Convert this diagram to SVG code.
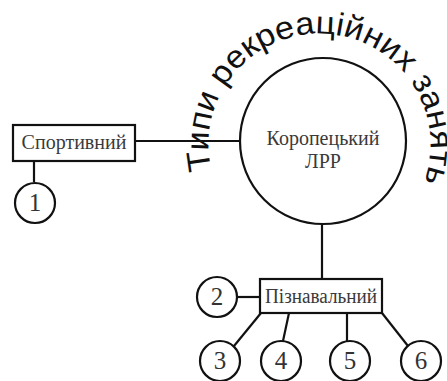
<svg xmlns="http://www.w3.org/2000/svg" width="447" height="381" viewBox="0 0 447 381">
<defs>
<style>
.box{fill:#fff;stroke:#111;stroke-width:2.2}
.num{fill:#fff;stroke:#111;stroke-width:2.2}
.ln{stroke:#111;stroke-width:2.2;fill:none}
.lbl{font-family:"Liberation Serif","Times New Roman",serif;font-size:20px;fill:#3a3a3a;text-anchor:middle}
.nt{font-family:"Liberation Serif","Times New Roman",serif;font-size:25px;fill:#333;text-anchor:middle}
.arc{font-family:"Liberation Sans",Arial,sans-serif;font-size:32px;fill:#111}
</style>
<path id="arcPath" d="M 211.3 169.9 A 111 111 0 1 1 424.9 179.1"/>
</defs>
<rect width="447" height="381" fill="#fff"/>
<g id="connectors">
<line class="ln" x1="135" y1="141" x2="240" y2="141"/>
<line class="ln" x1="34" y1="161" x2="34" y2="182"/>
<line class="ln" x1="322" y1="224" x2="322" y2="279"/>
<line class="ln" x1="237" y1="297" x2="260" y2="297"/>
<line class="ln" x1="261" y1="313" x2="234" y2="346"/>
<line class="ln" x1="289" y1="313" x2="283" y2="341"/>
<line class="ln" x1="347" y1="313" x2="347" y2="341"/>
<line class="ln" x1="382" y1="313" x2="408" y2="346"/>
</g>
<g id="arc-title">
<text class="arc"><textPath href="#arcPath" textLength="412" lengthAdjust="spacingAndGlyphs">Типи рекреаційних занять</textPath></text>
</g>
<g id="node-center">
<circle class="box" cx="323" cy="141" r="83"/>
<text class="lbl" x="323" y="145">Коропецький</text>
<text class="lbl" x="323" y="168">ЛРР</text>
</g>
<g id="node-sport">
<rect class="box" x="13" y="125" width="122" height="36"/>
<text class="lbl" x="74" y="149">Спортивний</text>
</g>
<g id="node-piznav">
<rect class="box" x="260" y="279" width="122" height="34"/>
<text class="lbl" x="321" y="303" textLength="112" lengthAdjust="spacingAndGlyphs">Пізнавальний</text>
</g>
<g id="n1"><circle class="num" cx="35" cy="203" r="20"/><text class="nt" x="35" y="211">1</text></g>
<g id="n2"><circle class="num" cx="217" cy="297" r="20"/><text class="nt" x="217" y="305">2</text></g>
<g id="n3"><circle class="num" cx="220" cy="361" r="20"/><text class="nt" x="220" y="369">3</text></g>
<g id="n4"><circle class="num" cx="281" cy="361" r="20"/><text class="nt" x="281" y="369">4</text></g>
<g id="n5"><circle class="num" cx="350" cy="361" r="20"/><text class="nt" x="350" y="369">5</text></g>
<g id="n6"><circle class="num" cx="421" cy="361" r="20"/><text class="nt" x="421" y="369">6</text></g>
</svg>
